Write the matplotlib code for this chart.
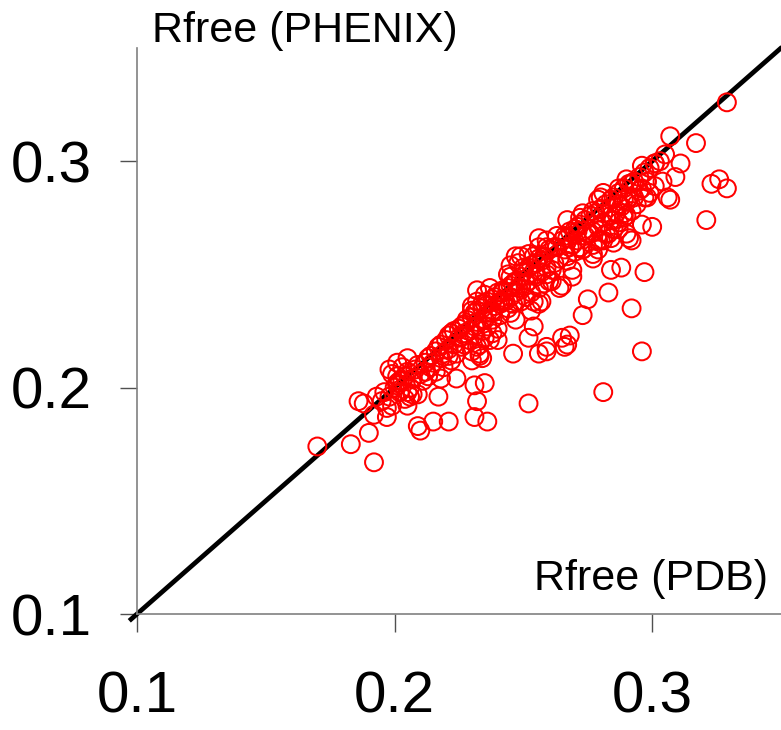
import matplotlib
matplotlib.use("Agg")
import matplotlib.pyplot as plt
from matplotlib import font_manager

# ---- data (Rfree PDB vs Rfree PHENIX) ----
rfree_pdb = [
    # lower-left / outliers
    0.170, 0.183, 0.192, 0.190, 0.186, 0.188, 0.193, 0.192, 0.197, 0.196,
    0.198, 0.205, 0.207, 0.209, 0.205, 0.209, 0.210, 0.215, 0.221, 0.217,
    0.224, 0.231, 0.235, 0.232, 0.231, 0.236, 0.205, 0.201, 0.199, 0.202,
    0.201, 0.207,
    # middle outliers
    0.273, 0.296, 0.281, 0.252, 0.246, 0.256, 0.259, 0.265, 0.267, 0.268,
    0.266, 0.252, 0.254, 0.256, 0.247, 0.240, 0.233, 0.234, 0.232, 0.230,
    0.233, 0.237, 0.253, 0.257, 0.259, 0.261, 0.259, 0.264, 0.269,
    # right side
    0.307, 0.298, 0.300, 0.296, 0.292, 0.288, 0.284, 0.297, 0.283, 0.275,
    0.292, 0.265, 0.321, 0.291, 0.295, 0.280, 0.287,
    0.277, 0.272, 0.281, 0.285, 0.289, 0.287, 0.284, 0.279, 0.275, 0.271,
    0.267, 0.268, 0.273, 0.279, 0.285, 0.277, 0.267, 0.282, 0.290, 0.291,
    0.287, 0.289,
    0.289, 0.284, 0.279, 0.273, 0.267, 0.271, 0.276, 0.281, 0.277, 0.272,
    0.263, 0.256, 0.259, 0.257, 0.269, 0.261, 0.255, 0.250, 0.247, 0.254,
    0.245, 0.260, 0.248, 0.242, 0.237, 0.232, 0.234, 0.241, 0.247, 0.254,
    0.245, 0.238, 0.230,
    # top right
    0.329, 0.307, 0.317, 0.301, 0.296, 0.311, 0.309, 0.323, 0.326, 0.329,
    0.298, 0.290, 0.292, 0.296, 0.306, 0.281,
    # dense band 0.195-0.212
    0.195, 0.198, 0.200, 0.201, 0.203, 0.204, 0.205, 0.202, 0.206, 0.207,
    0.208, 0.209, 0.210, 0.211, 0.212, 0.206, 0.204, 0.199, 0.201, 0.197,
    0.203,
    # dense band 0.212-0.227
    0.212, 0.213, 0.214, 0.216, 0.217, 0.218, 0.220, 0.221, 0.222, 0.223,
    0.225, 0.214, 0.215, 0.218, 0.219, 0.221, 0.223, 0.225, 0.216, 0.219,
    0.222, 0.224, 0.213, 0.218, 0.226, 0.221, 0.227,
    # dense band 0.226-0.242
    0.226, 0.227, 0.228, 0.230, 0.231, 0.232, 0.234, 0.235, 0.236, 0.238,
    0.239, 0.240, 0.227, 0.229, 0.231, 0.232, 0.235, 0.236, 0.238, 0.239,
    0.241, 0.229, 0.231, 0.234, 0.236, 0.238, 0.241, 0.233, 0.235, 0.238,
    0.240, 0.227, 0.230, 0.242, 0.230, 0.232, 0.235,
    # dense band 0.242-0.264
    0.242, 0.244, 0.245, 0.246, 0.247, 0.249, 0.250, 0.252, 0.253, 0.255,
    0.256, 0.258, 0.260, 0.262, 0.243, 0.245, 0.247, 0.249, 0.251, 0.252,
    0.255, 0.257, 0.259, 0.262, 0.264, 0.244, 0.246, 0.249, 0.251, 0.253,
    0.256, 0.258, 0.245, 0.248, 0.244, 0.249, 0.252, 0.256, 0.259, 0.263,
    # dense band 0.265-0.305
    0.265, 0.266, 0.268, 0.270, 0.272, 0.274, 0.276, 0.278, 0.280, 0.282,
    0.284, 0.285, 0.287, 0.289, 0.291, 0.293, 0.295, 0.266, 0.269, 0.271,
    0.274, 0.277, 0.279, 0.281, 0.284, 0.286, 0.288, 0.290, 0.293, 0.267,
    0.270, 0.273, 0.277, 0.280, 0.283, 0.285, 0.287, 0.290, 0.292, 0.294,
    0.297, 0.299, 0.301, 0.304, 0.297, 0.299, 0.301, 0.303, 0.305,
]
rfree_phenix = [
    0.174, 0.175, 0.167, 0.180, 0.194, 0.193, 0.196, 0.188, 0.187, 0.198,
    0.208, 0.192, 0.197, 0.197, 0.198, 0.183, 0.181, 0.185, 0.185, 0.196,
    0.204, 0.201, 0.202, 0.194, 0.187, 0.185, 0.213, 0.211, 0.206, 0.203,
    0.201, 0.204,
    0.232, 0.216, 0.198, 0.193, 0.215, 0.215, 0.216, 0.222, 0.219, 0.223,
    0.218, 0.222, 0.227, 0.237, 0.230, 0.221, 0.214, 0.213, 0.218, 0.212,
    0.215, 0.221, 0.234, 0.238, 0.218, 0.247, 0.250, 0.244, 0.249,
    0.283, 0.284, 0.271, 0.272, 0.265, 0.253, 0.252, 0.251, 0.242, 0.239,
    0.235, 0.245, 0.274, 0.284, 0.287, 0.284, 0.281,
    0.278, 0.275, 0.277, 0.274, 0.275, 0.270, 0.266, 0.265, 0.268, 0.269,
    0.266, 0.262, 0.261, 0.261, 0.264, 0.257, 0.256, 0.268, 0.268, 0.266,
    0.288, 0.283,
    0.277, 0.274, 0.283, 0.277, 0.274, 0.271, 0.268, 0.265, 0.259, 0.262,
    0.262, 0.266, 0.262, 0.256, 0.252, 0.252, 0.250, 0.253, 0.258, 0.258,
    0.249, 0.247, 0.244, 0.243, 0.244, 0.243, 0.237, 0.237, 0.238, 0.238,
    0.233, 0.233, 0.234,
    0.326, 0.311, 0.308, 0.299, 0.298, 0.299, 0.293, 0.290, 0.292, 0.288,
    0.291, 0.292, 0.290, 0.288, 0.284, 0.286,
    0.194, 0.196, 0.200, 0.202, 0.203, 0.205, 0.207, 0.198, 0.200, 0.204,
    0.208, 0.210, 0.206, 0.203, 0.207, 0.196, 0.195, 0.192, 0.205, 0.191,
    0.209,
    0.211, 0.213, 0.214, 0.216, 0.218, 0.219, 0.221, 0.223, 0.224, 0.225,
    0.226, 0.209, 0.211, 0.213, 0.215, 0.217, 0.219, 0.222, 0.207, 0.209,
    0.212, 0.215, 0.205, 0.204, 0.218, 0.214, 0.224,
    0.227, 0.228, 0.230, 0.231, 0.233, 0.234, 0.235, 0.237, 0.238, 0.239,
    0.240, 0.242, 0.223, 0.225, 0.227, 0.229, 0.230, 0.233, 0.234, 0.236,
    0.238, 0.221, 0.223, 0.225, 0.227, 0.230, 0.232, 0.219, 0.222, 0.224,
    0.226, 0.219, 0.216, 0.238, 0.236, 0.238, 0.241,
    0.242, 0.244, 0.245, 0.246, 0.247, 0.249, 0.251, 0.253, 0.254, 0.255,
    0.257, 0.258, 0.261, 0.262, 0.238, 0.240, 0.242, 0.244, 0.246, 0.247,
    0.249, 0.251, 0.253, 0.255, 0.257, 0.235, 0.237, 0.238, 0.240, 0.242,
    0.244, 0.246, 0.254, 0.255, 0.250, 0.258, 0.259, 0.262, 0.265, 0.267,
    0.265, 0.267, 0.269, 0.270, 0.272, 0.274, 0.276, 0.277, 0.279, 0.281,
    0.283, 0.284, 0.286, 0.288, 0.290, 0.291, 0.293, 0.261, 0.263, 0.265,
    0.267, 0.269, 0.271, 0.273, 0.276, 0.277, 0.280, 0.282, 0.284, 0.258,
    0.260, 0.261, 0.263, 0.265, 0.268, 0.270, 0.273, 0.276, 0.278, 0.281,
    0.284, 0.286, 0.289, 0.291, 0.295, 0.297, 0.299, 0.300, 0.303,
]
tick_values = [0.1, 0.2, 0.3]
tick_labels = ["0.1", "0.2", "0.3"]
x_label = "Rfree (PDB)"
y_label = "Rfree (PHENIX)"
axis_range = (0.1, 0.35)
diag_range = [0.097, 0.353]

names = {f.name for f in font_manager.fontManager.ttflist}
tick_font = "Liberation Sans Narrow" if "Liberation Sans Narrow" in names else "Liberation Sans"
tick_size = 44 if tick_font == "Liberation Sans Narrow" else 42
plt.rcParams['font.family'] = ['Liberation Sans', 'DejaVu Sans']

W, H = 781, 730
fig = plt.figure(figsize=(W / 100, H / 100), dpi=100)
ax = fig.add_axes([137 / W, (H - 614) / H, 644 / W, 566 / H])
ax.set_xlim(*axis_range)
ax.set_ylim(*axis_range)

ax.plot(diag_range, diag_range, color='black', lw=3.4, clip_on=False, zorder=2,
        solid_capstyle='butt')
ax.scatter(rfree_pdb, rfree_phenix, s=165, facecolors='none', edgecolors='#ff0000',
           linewidths=1.45, zorder=3, clip_on=False)

for side in ['top', 'right']:
    ax.spines[side].set_visible(False)
for side in ['left', 'bottom']:
    ax.spines[side].set_color('#808080')
    ax.spines[side].set_linewidth(1.2)

ax.set_xticks(tick_values)
ax.set_yticks(tick_values)
ax.set_xticklabels(tick_labels, fontfamily=tick_font, fontsize=tick_size)
ax.set_yticklabels(tick_labels, fontfamily=tick_font, fontsize=tick_size)
ax.tick_params(axis='x', direction='out', length=13, width=1.0, color='#505050', pad=28)
ax.tick_params(axis='y', direction='out', length=12.5, width=1.0, color='#505050', pad=20)

fig.text(768 / W, 1 - 590 / H, x_label, ha='right', va='baseline', fontsize=31)
fig.text(152 / W, 1 - 42 / H, y_label, ha='left', va='baseline', fontsize=31)

fig.savefig('out.png', dpi=100)
